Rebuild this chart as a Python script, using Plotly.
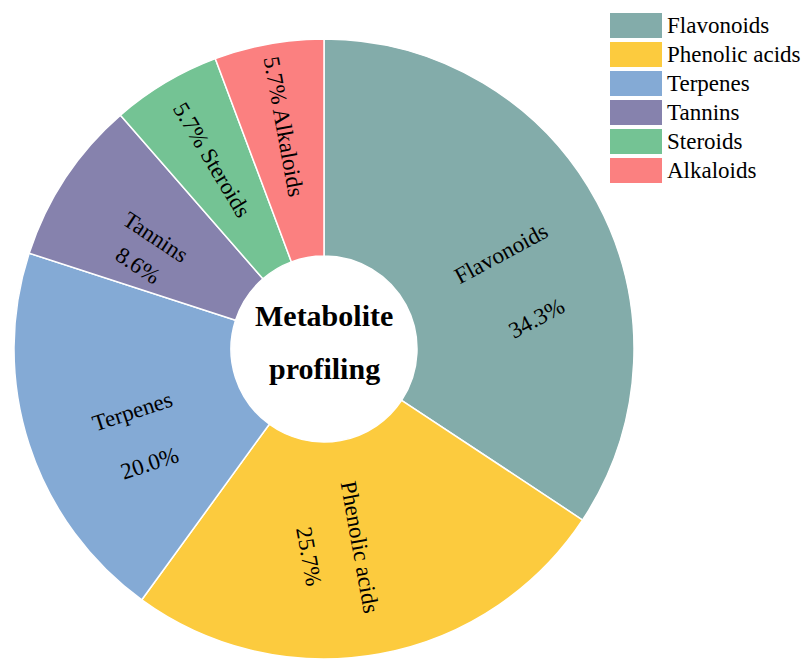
import math
import plotly.graph_objects as go

categories = ["Flavonoids", "Phenolic acids", "Terpenes", "Tannins", "Steroids", "Alkaloids"]
percentages = [34.3, 25.7, 20.0, 8.6, 5.7, 5.7]
colors = ["#83ACAA", "#FCCB3E", "#84AAD5", "#8682AD", "#74C394", "#FB8080"]
center_lines = ["Metabolite", "profiling"]

# label layout style per slice: gap (px) between name line and percent line;
# None means a single line "pct name"
line_gaps = [74, 52, 55, 33, None, None]
label_radius = [0.65, 0.65, 0.65, 0.65, 0.71, 0.73]

FONT = "Liberation Serif, Times New Roman, serif"
W, H = 805, 659
cx, cy_top, r = 324, 349, 310

fig = go.Figure()
fig.add_trace(go.Pie(
    labels=categories,
    values=percentages,
    textinfo="none",
    marker=dict(colors=colors, line=dict(color="white", width=1.5)),
    hole=0.30,
    sort=False,
    direction="clockwise",
    rotation=0,
    showlegend=False,
    domain=dict(x=[(cx - r) / W, (cx + r) / W], y=[0, 2 * r / H]),
))

annotations = []


def add_text(text, px, py, angle, size, bold=False):
    annotations.append(dict(
        text=f"<b>{text}</b>" if bold else text,
        x=px / W, y=1 - py / H, xref="paper", yref="paper",
        xanchor="center", yanchor="middle", textangle=angle,
        showarrow=False, font=dict(family=FONT, size=size, color="black")))


# slice labels, positioned along each slice's bisector (computed from the values)
total = sum(percentages)
cum = 0.0
for name, p, gap, rf in zip(categories, percentages, line_gaps, label_radius):
    mid_frac = (cum + p / 2) / total
    cum += p
    theta = 90 - 360 * mid_frac  # math degrees
    t = math.radians(theta)
    d = rf * r
    lx = cx + d * math.cos(t)
    ly = cy_top - d * math.sin(t)
    rot = (-theta) % 180
    if rot > 90:
        rot -= 180
    pct = f"{p:.1f}%"
    if gap is None:
        add_text(f"{pct} {name}", lx, ly, rot, 23)
    else:
        add_text(name, lx, ly, rot, 23)
        a = math.radians(rot)
        add_text(pct, lx - gap * math.sin(a), ly + gap * math.cos(a), rot, 23)

for i, line in enumerate(center_lines):
    add_text(line, cx, 315 + 53 * i, 0, 30, bold=True)

shapes = []
for i, (c, col) in enumerate(zip(categories, colors)):
    top = 13 + 29 * i
    shapes.append(dict(type="rect", xref="paper", yref="paper",
                       x0=610 / W, x1=662 / W, y0=1 - (top + 25) / H, y1=1 - top / H,
                       fillcolor=col, line=dict(width=0)))
    annotations.append(dict(text=c, x=665 / W, y=1 - (top + 12.5) / H,
                            xref="paper", yref="paper", xanchor="left", yanchor="middle",
                            showarrow=False, font=dict(family=FONT, size=23, color="black")))

fig.update_layout(
    width=W, height=H,
    margin=dict(l=0, r=0, t=0, b=0),
    paper_bgcolor="white", plot_bgcolor="white",
    annotations=annotations, shapes=shapes,
)
fig.write_html("out.html")
